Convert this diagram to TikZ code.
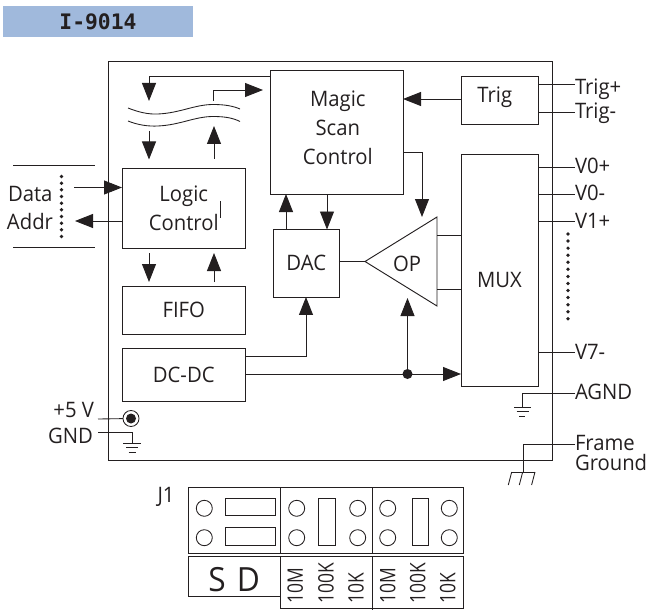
\documentclass[tikz,border=0pt]{standalone}
\usepackage{fontspec}
\setmainfont[FakeStretch=.95]{Open Sans}
\newfontfamily\titlefont{DejaVu Sans Mono}
\usetikzlibrary{arrows.meta}
\definecolor{titleblue}{RGB}{160,185,220}
\definecolor{inkgray}{RGB}{35,31,32}
\tikzset{
  every node/.style={font=\fontsize{16}{21.5}\selectfont, text=inkgray, inner sep=0pt, outer sep=0pt},
  block/.style={draw=inkgray, line width=.7pt, align=center},
  portlabel/.style={anchor=west, text height=12pt, text depth=2.2pt},
  wire/.style={draw=inkgray, line width=.65pt},
  arr/.style={wire, -{Triangle[length=13.5pt, width=10.5pt]}},
  dotcol/.style={draw=inkgray, line width=2.8pt, line cap=round},
  jumper/.style={draw=inkgray, line width=.65pt},
  rangetext/.style={anchor=west, rotate=90, xscale=.86}
}
\begin{document}
\begin{tikzpicture}[x=.75pt, y=-.75pt]
\useasboundingbox (0,0) rectangle (647,610);

\node[fill=titleblue, minimum width=142.5pt, minimum height=23.25pt, font=\titlefont\bfseries\fontsize{16}{18}\selectfont] (title) at (98,21.5) {I-9014};

% main board
\node[block, minimum width=333pt, minimum height=299.25pt] (board) at (330,260.5) {};
\node[block, minimum width=99.75pt, minimum height=93pt, label={[align=center, xshift=1pt, yshift=3.2pt]center:Magic\\Scan\\Control}] (magic) at (336.5,132) {};
\node[block, minimum width=57.75pt, minimum height=36pt, label={[xshift=-3.5pt, yshift=2pt]center:Trig}] (trig) at (499.5,100) {};
\node[block, minimum width=57.75pt, minimum height=174pt, label={[yshift=-7.5pt]center:MUX}] (mux) at (499.5,270) {};
\node[block, minimum width=92.6pt, minimum height=59.6pt] (logic) at (183.75,208.25) {Logic\\Control};
\node[block, minimum width=92.6pt, minimum height=35.6pt] (fifo) at (183.75,310.25) {FIFO};
\node[block, minimum width=92.6pt, minimum height=39.75pt] (dcdc) at (183.75,374.5) {DC-DC};
\node[block, minimum width=49.1pt, minimum height=50.6pt] (dac) at (306.25,263.25) {DAC};

% op amp
\coordinate (optip) at (365,261.5);
\coordinate (optop) at (437,217);
\coordinate (opbot) at (437,306);
\coordinate (opin) at (422,217);
\draw[block] (optip) -- (optop) -- (opbot) -- cycle;
\node (op) at (407,264) {OP};

% bus
\draw[wire] (128,108) .. controls (138,112) and (148,114.5) .. (158,114) .. controls (180,113) and (195,104.5) .. (213,104.5) .. controls (225,104.5) and (233,106) .. (240,109);
\draw[wire] (128,121) .. controls (138,125) and (148,126.5) .. (158,126) .. controls (180,125) and (195,116.5) .. (213,116.5) .. controls (225,116.5) and (233,118) .. (240,121.5);
\coordinate (busin) at (149,101);
\coordinate (busout) at (213,101);
\draw[arr] (magic.west |- 0,76) -| (busin);
\draw[arr] (busout) |- (263,90);
\draw[arr] (149,131) -- (149,159.5);
\draw[arr] (214,159) -- (214,126);

% logic / fifo
\draw[arr] (149,253) -- (149,282);
\draw[arr] (214,282) -- (214,253);
\draw[wire] (220.5,201) -- (220.5,218);

% data side
\node[portlabel] (data) at (8,195) {Data};
\node[portlabel] (addr) at (7,223) {Addr};
\coordinate (datain) at (74,187.5);
\coordinate (addrout) at (75,221);
\draw[arr] (datain) -- (logic.west |- datain);
\draw[arr] (logic.west |- addrout) -- (addrout);
\draw[wire] (13,165.5) -- (95,165.5);
\draw[wire] (13,247.5) -- (95,247.5);
\draw[dotcol, dash pattern=on 0pt off 5pt] (61.5,176.5) -- (61.5,241);

% centre
\draw[arr] (dac.north -| 286,0) -- (magic.south -| 286,0);
\draw[arr] (magic.south -| 327,0) -- (dac.north -| 327,0);
\draw[arr] (magic.east |- 0,152.5) -| (opin);
\draw[arr] (trig.west |- 0,99) -- (magic.east |- 0,99);
\draw[wire] (dac.east |- optip) -- (optip);
\draw[wire] (optop |- 0,235) -- (mux.west |- 0,235);
\draw[wire] (optop |- 0,289.5) -- (mux.west |- 0,289.5);

% dc-dc
\coordinate (dcnode) at (407.5,374);
\draw[arr] (dcdc.east |- 0,356.5) -| (dac.south -| 306,0);
\draw[arr] (dcdc.east |- dcnode) -- (mux.west |- dcnode);
\draw[arr] (dcnode) -- (407.5,298);
\fill[inkgray] (dcnode) circle (5);

% right pins
\node[portlabel] (trigp) at (575,88) {Trig+};
\node[portlabel] (trigm) at (575,112) {Trig-};
\node[portlabel] (vzp) at (575,167) {V0+};
\node[portlabel] (vzm) at (575,194) {V0-};
\node[portlabel] (vop) at (575,221.5) {V1+};
\node[portlabel] (vsm) at (575,352.5) {V7-};
\node[portlabel] (agnd) at (575,393) {AGND};
\node[portlabel] (frame) at (575,444) {Frame};
\node[portlabel] (ground) at (575,464) {Ground};
\draw[wire] (trig.east |- 0,84.5) -- (trigp.west |- 0,84.5);
\draw[wire] (trig.east |- trigm) -- (trigm.west);
\draw[wire] (mux.east |- vzp) -- (vzp.west);
\draw[wire] (mux.east |- vzm) -- (vzm.west);
\draw[wire] (mux.east |- vop) -- (vop.west);
\draw[wire] (mux.east |- vsm) -- (vsm.west);
\draw[dotcol, dash pattern=on 0pt off 5.3pt] (568,234) -- (568,319);

% grounds
\draw[wire] (agnd.west) -| (522,407.5);
\draw[wire] (514,407.5) -- (531,407.5);
\draw[wire] (516.5,411.5) -- (528.5,411.5);
\draw[wire] (519,416) -- (525,416);
\draw[wire] (frame.west) -| (523,472);
\draw[wire] (511.7,472) -- (535,472);
\draw[wire] (511.7,472) -- (508.3,485);
\draw[wire] (522.7,472) -- (519.3,485);
\draw[wire] (535,472) -- (531.6,485);

% power
\node[portlabel, anchor=east] (vcc) at (94,411) {+5 V};
\node[portlabel, anchor=east] (gnd) at (93,437) {GND};
\coordinate (jack) at (131,418.5);
\draw[wire] (98,419) -- (jack);
\draw[wire, fill=white] (jack) circle (8);
\fill[inkgray] (jack) circle (5);
\draw[wire] (98,432.7) -| (132,443.3);
\draw[wire] (123,443.3) -- (141,443.3);
\draw[wire] (126,447.8) -- (138,447.8);
\draw[wire] (128.5,452.7) -- (135.5,452.7);

% J1
\node (jone) at (166,497) {J1};
\node[jumper, draw, minimum width=205.9pt, minimum height=49.9pt] (jtop) at (325.75,520.25) {};
\draw[jumper] (280.5,487) -- (280.5,553.5);
\draw[jumper] (372,487) -- (372,553.5);
\node[jumper, draw, minimum width=68.6pt, minimum height=30pt, label={[yshift=-2pt, font=\fontsize{25}{27}\selectfont]center:S\,\,D}] (sd) at (234.25,576.7) {};
\node[jumper, draw, minimum width=137.25pt, minimum height=38.7pt] (ranges) at (371.5,582.5) {};
\draw[jumper] (372,556.7) -- (372,610);
\draw[jumper] (204.3,508.3) circle (8);
\draw[jumper] (204.3,537.7) circle (8);
\draw[jumper] (296.7,508.3) circle (8);
\draw[jumper] (296.7,537.7) circle (8);
\draw[jumper] (357.7,508.3) circle (8);
\draw[jumper] (357.7,537.7) circle (8);
\draw[jumper] (387.7,508.3) circle (8);
\draw[jumper] (387.7,537.7) circle (8);
\draw[jumper] (449.3,508.3) circle (8);
\draw[jumper] (449.3,537.7) circle (8);
\draw[jumper] (225.3,498.3) rectangle (275.7,515.7);
\draw[jumper] (225.3,527.7) rectangle (275.7,545.3);
\draw[jumper] (318.3,498.3) rectangle (335,545.3);
\draw[jumper] (412,498.3) rectangle (428.7,545.3);
\node[rangetext] (ma) at (295.3,603) {10M};
\node[rangetext] (mb) at (326,603) {100K};
\node[rangetext] (mc) at (356,603) {10K};
\node[rangetext] (md) at (387.7,603) {10M};
\node[rangetext] (me) at (417.7,603) {100K};
\node[rangetext] (mf) at (447.7,603) {10K};
\end{tikzpicture}
\end{document}
